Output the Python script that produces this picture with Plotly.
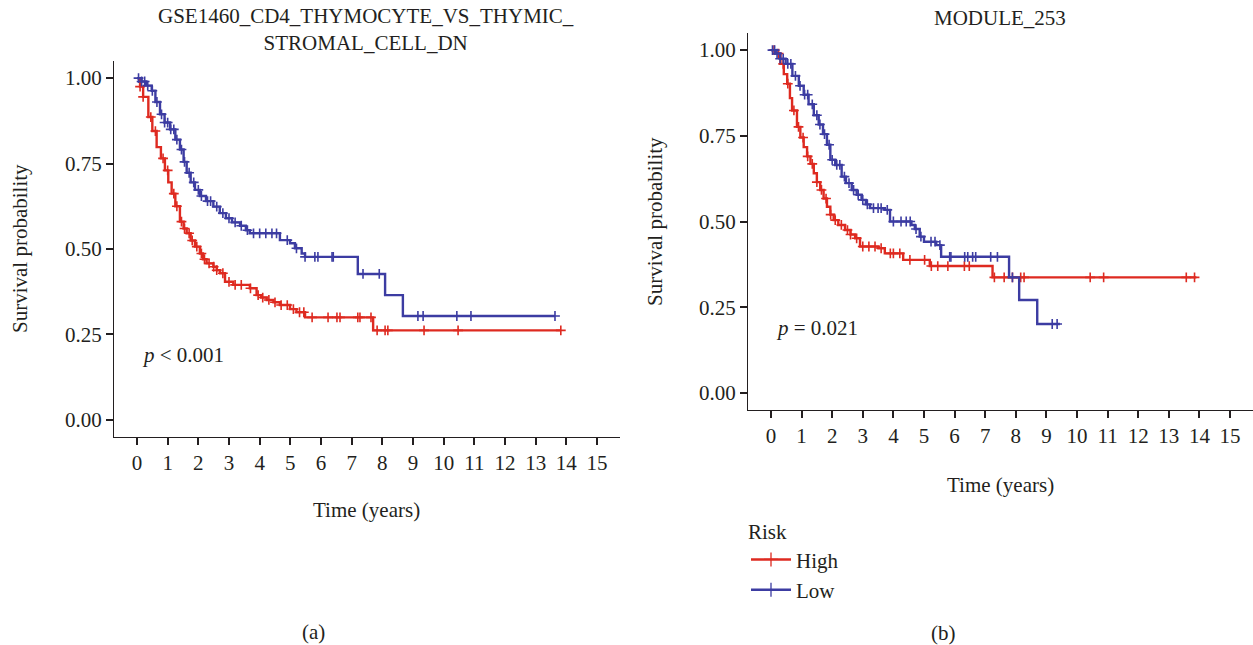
import plotly.graph_objects as go

# ---------------- Data ----------------
# Panel (a): GSE1460_CD4_THYMOCYTE_VS_THYMIC_STROMAL_CELL_DN
a_high_t = [0, 0.1, 0.2, 0.37, 0.5, 0.64, 0.78, 0.91, 1.02, 1.13, 1.25, 1.4, 1.52, 1.62, 1.75,
            1.89, 2.05, 2.15, 2.27, 2.49, 2.6, 2.71, 2.87, 3.14, 3.68, 3.9, 4.05, 4.23, 4.45,
            4.66, 4.99, 5.2, 5.48, 7.7, 13.82]
a_high_s = [1.0, 0.975, 0.945, 0.886, 0.845, 0.798, 0.765, 0.73, 0.695, 0.662, 0.625, 0.58, 0.56,
            0.546, 0.525, 0.507, 0.487, 0.47, 0.458, 0.448, 0.438, 0.429, 0.404, 0.395, 0.385,
            0.365, 0.358, 0.351, 0.344, 0.336, 0.324, 0.315, 0.3, 0.262, 0.262]
a_high_cens = [0.1, 0.2, 0.45, 0.6, 0.85, 1.0, 1.2, 1.3, 1.45, 1.55, 1.7, 1.8, 1.95, 2.1, 2.2,
               2.35, 2.5, 2.6, 2.8, 3.0, 3.2, 3.4, 3.7, 3.95, 4.1, 4.3, 4.5, 4.7, 4.9, 5.1, 5.3,
               5.44, 5.71, 6.23, 6.52, 6.62, 7.2, 7.27, 7.63, 7.83, 8.09, 8.18, 9.36, 10.47, 13.82]

a_low_t = [0, 0.15, 0.3, 0.48, 0.6, 0.75, 0.9, 1.08, 1.25, 1.4, 1.52, 1.62, 1.75, 1.89, 2.05,
           2.25, 2.49, 2.7, 2.9, 3.1, 3.36, 3.55, 3.68, 4.66, 4.99, 5.15, 5.37, 5.48, 7.2, 8.09,
           8.67, 13.63]
a_low_s = [1.0, 0.99, 0.978, 0.963, 0.93, 0.894, 0.87, 0.85, 0.82, 0.791, 0.755, 0.723, 0.695,
           0.673, 0.655, 0.64, 0.624, 0.605, 0.59, 0.578, 0.568, 0.555, 0.546, 0.526, 0.517,
           0.502, 0.487, 0.477, 0.427, 0.365, 0.304, 0.304]
a_low_cens = [0.05, 0.15, 0.25, 0.35, 0.5, 0.65, 0.8, 0.9, 1.0, 1.1, 1.2, 1.3, 1.45, 1.55, 1.7,
              1.85, 2.0, 2.1, 2.3, 2.4, 2.6, 2.8, 3.0, 3.2, 3.4, 3.6, 3.8, 4.0, 4.2, 4.4, 4.55,
              4.9, 5.2, 5.48, 5.8, 5.9, 6.36, 6.4, 7.37, 7.9, 9.16, 9.33, 10.43, 10.89, 13.63]

# Panel (b): MODULE_253
b_high_t = [0, 0.15, 0.31, 0.42, 0.53, 0.62, 0.69, 0.85, 0.96, 1.07, 1.18, 1.29, 1.4, 1.5, 1.61,
            1.72, 1.83, 1.94, 2.05, 2.2, 2.42, 2.6, 2.75, 2.91, 3.51, 3.72, 4.32, 5.19, 7.24, 13.9]
b_high_s = [1.0, 0.99, 0.96, 0.93, 0.902, 0.86, 0.824, 0.776, 0.745, 0.717, 0.69, 0.668, 0.641,
            0.615, 0.592, 0.567, 0.543, 0.52, 0.504, 0.49, 0.475, 0.462, 0.451, 0.427, 0.422,
            0.407, 0.388, 0.37, 0.337, 0.337]
b_high_cens = [0.1, 0.25, 0.4, 0.55, 0.75, 0.9, 1.05, 1.2, 1.35, 1.5, 1.65, 1.8, 1.95, 2.1, 2.3,
               2.5, 2.6, 2.8, 3.0, 3.2, 3.4, 3.6, 3.9, 4.0, 4.21, 4.54, 5.02, 5.24, 5.45, 5.78,
               6.32, 6.48, 7.3, 7.62, 7.89, 8.16, 8.27, 10.43, 10.87, 13.57, 13.84]

b_low_t = [0, 0.15, 0.3, 0.48, 0.7, 0.91, 1.07, 1.23, 1.4, 1.56, 1.7, 1.83, 1.94, 2.1, 2.31, 2.45,
           2.64, 2.8, 2.96, 3.1, 3.24, 3.72, 3.89, 4.59, 4.7, 4.86, 5.0, 5.4, 5.56, 7.78, 8.11,
           8.7, 9.44]
b_low_s = [1.0, 0.99, 0.975, 0.96, 0.925, 0.896, 0.87, 0.842, 0.81, 0.783, 0.755, 0.724, 0.68,
           0.665, 0.631, 0.612, 0.592, 0.578, 0.563, 0.55, 0.539, 0.534, 0.5, 0.49, 0.478,
           0.456, 0.441, 0.431, 0.397, 0.337, 0.271, 0.201, 0.201]
b_low_cens = [0.05, 0.12, 0.2, 0.3, 0.4, 0.55, 0.65, 0.8, 0.95, 1.1, 1.2, 1.35, 1.5, 1.6, 1.75,
              1.9, 2.0, 2.15, 2.25, 2.4, 2.55, 2.7, 2.85, 3.0, 3.15, 3.35, 3.5, 3.6, 3.8, 4.0,
              4.25, 4.42, 4.55, 4.74, 4.9, 5.23, 5.36, 5.52, 5.84, 5.88, 6.33, 6.43, 6.59, 6.69,
              7.18, 7.4, 7.89, 9.19, 9.35]

x_ticks = list(range(0, 16))
y_ticks = [0, 0.25, 0.5, 0.75, 1.0]
titles = ["GSE1460_CD4_THYMOCYTE_VS_THYMIC_<br>STROMAL_CELL_DN", "MODULE_253"]
pvals = ["<i>p</i> &lt; 0.001", "<i>p</i> = 0.021"]
groups = ["High", "Low"]

RED = "#DE2A20"
BLUE = "#3C3CA2"
TXT = "#231F20"
FONT = "Liberation Serif"
FS = 21
W, H = 1253, 645


def step_at(ts, ss, t):
    val = ss[0]
    for ti, si in zip(ts, ss):
        if ti <= t:
            val = si
        else:
            break
    return val


fig = go.Figure()

panels = [
    dict(xa="x", ya="y", curves=[(a_high_t, a_high_s, a_high_cens, RED),
                                 (a_low_t, a_low_s, a_low_cens, BLUE)]),
    dict(xa="x2", ya="y2", curves=[(b_high_t, b_high_s, b_high_cens, RED),
                                   (b_low_t, b_low_s, b_low_cens, BLUE)]),
]

for p in panels:
    for ts, ss, cens, col in p["curves"]:
        fig.add_trace(go.Scatter(x=ts, y=ss, mode="lines", line=dict(color=col, width=2.4, shape="hv"),
                                 xaxis=p["xa"], yaxis=p["ya"], showlegend=False, hoverinfo="skip"))
        fig.add_trace(go.Scatter(x=cens, y=[step_at(ts, ss, c) for c in cens], mode="markers",
                                 marker=dict(symbol="cross-thin", size=7, color=col,
                                             line=dict(color=col, width=1.6)),
                                 xaxis=p["xa"], yaxis=p["ya"], showlegend=False, hoverinfo="skip"))

for g, col in zip(groups, [RED, BLUE]):
    fig.add_trace(go.Scatter(x=[None], y=[None], mode="lines+markers", name=g,
                             line=dict(color=col, width=2.4),
                             marker=dict(symbol="cross-thin", size=10, color=col,
                                         line=dict(color=col, width=1.3)),
                             xaxis="x2", yaxis="y2"))


def px_x(px):
    return px / W


def px_y(py):
    return 1 - py / H


axis_common = dict(showline=True, linecolor=TXT, linewidth=1.3, ticks="outside", ticklen=7,
                   tickwidth=1.8, tickcolor=TXT, showgrid=False, zeroline=False,
                   tickfont=dict(family=FONT, size=FS, color=TXT))

fig.update_layout(
    width=W, height=H, margin=dict(l=0, r=0, t=0, b=0),
    paper_bgcolor="white", plot_bgcolor="white",
    font=dict(family=FONT, size=FS, color=TXT),
    xaxis=dict(domain=[px_x(114), px_x(620)], range=[-0.75, 15.75], tickvals=x_ticks,
               anchor="y", **axis_common),
    yaxis=dict(domain=[px_y(437), px_y(61)], range=[-0.05, 1.05], tickvals=y_ticks,
               tickformat=".2f", anchor="x", **axis_common),
    xaxis2=dict(domain=[px_x(748), 1.0], range=[-0.75, 15.75], tickvals=x_ticks,
                anchor="y2", **axis_common),
    yaxis2=dict(domain=[px_y(410), px_y(33)], range=[-0.05, 1.05], tickvals=y_ticks,
                tickformat=".2f", anchor="x2", **axis_common),
    legend=dict(x=px_x(746), y=px_y(512), xanchor="left", yanchor="top",
                title=dict(text="Risk", font=dict(family=FONT, size=FS)),
                font=dict(family=FONT, size=FS), bgcolor="rgba(0,0,0,0)",
                tracegroupgap=0, itemwidth=40),
)


def note(text, x, y, xref="paper", yref="paper", xanchor="center", angle=0):
    return dict(text=text, x=x, y=y, xref=xref, yref=yref, showarrow=False, textangle=angle,
                xanchor=xanchor, yanchor="middle", font=dict(size=FS, family=FONT, color=TXT))


ann = [
    note(titles[0], px_x(366), px_y(29)),
    note(titles[1], px_x(1000), px_y(18)),
    note("Time (years)", px_x(366), px_y(510)),
    note("Time (years)", px_x(1000), px_y(485)),
    note("Survival probability", px_x(20), px_y(249), angle=-90),
    note("Survival probability", px_x(655), px_y(222), angle=-90),
    note(pvals[0], 0.1, 0.19, "x", "y", "left"),
    note(pvals[1], 0.1, 0.19, "x2", "y2", "left"),
    note("(a)", px_x(313), px_y(632)),
    note("(b)", px_x(943), px_y(633)),
]
fig.update_layout(annotations=ann)

fig.write_html("out.html")
